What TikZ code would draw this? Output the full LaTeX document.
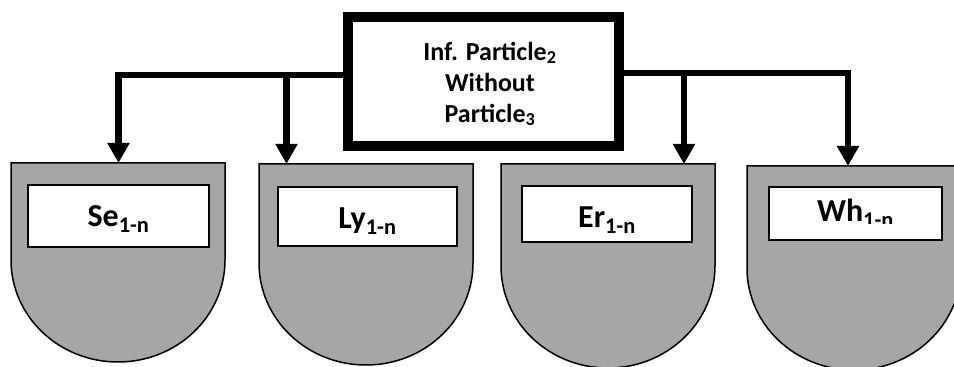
\documentclass[tikz,border=0pt]{standalone}
\usepackage{fontspec}
\setmainfont{Carlito}
\usetikzlibrary{arrows.meta}
\definecolor{slotgray}{HTML}{A6A6A6}
\tikzset{
  mainbox/.style={draw, line width=10pt, fill=white, minimum width=271pt,
    minimum height=129pt, inner sep=0pt},
  maintext/.style={font=\bfseries\fontsize{26}{31}\selectfont, align=center, inner sep=0pt},
  conn/.style={line width=6.5pt, -{Triangle[width=21pt,length=20pt]}},
  slot/.style={minimum width=214pt, inner sep=0pt, outer sep=0pt},
  dshape/.style={draw, line width=1.5pt, fill=slotgray},
  namebox/.style={draw, line width=1.1pt, fill=white, inner sep=0pt},
  namelbl/.style={font=\bfseries\fontsize{32}{38}\selectfont, anchor=base, inner sep=0pt},
}
\begin{document}
\begin{tikzpicture}[x=1pt, y=1pt]
\useasboundingbox (0,0) rectangle (954,367);
\clip (0,0) rectangle (954,367);

% outlines of the four receiving slots
\node[slot, minimum height=199pt] (se) at (118,104.5) {};
\node[slot, minimum height=201pt] (ly) at (366,102.5) {};
\node[slot, minimum height=204pt] (er) at (608,101) {};
\node[slot, minimum height=204pt] (wh) at (854,99) {};
\foreach \n in {se,ly,er,wh}
  \draw[dshape] (\n.north west) -- ([yshift=102pt]\n.south west)
    arc[start angle=180, end angle=360, x radius=107pt, y radius=102pt]
    -- (\n.north east) -- cycle;

% white name plates
\node[namebox, minimum width=181pt, minimum height=62pt] (se-box) at (118.5,151) {};
\node[namebox, minimum width=179pt, minimum height=59pt] (ly-box) at (367.5,150.5) {};
\node[namebox, minimum width=170pt, minimum height=56pt] (er-box) at (607,153) {};
\node[namebox, minimum width=173pt, minimum height=53pt] (wh-box) at (855.5,153.5) {};

\node[namelbl] (se-l) at (118.5,140) {Se\textsubscript{1-n}};
\node[namelbl] (ly-l) at (367.5,138) {Ly\textsubscript{1-n}};
\node[namelbl] (er-l) at (607,139) {Er\textsubscript{1-n}};
\begin{scope}
  \clip (740,143) rectangle (950,200);
  \node[namelbl] (wh-l) at (855.5,145) {Wh\textsubscript{1-n}};
\end{scope}

% central box and its connectors
\node[mainbox] (main) at (483.5,285.5) {};
\coordinate (lj) at ([yshift=6.5pt]main.west);
\coordinate (rj) at ([yshift=8.5pt]main.east);
\coordinate (se-in) at ([xshift=0.5pt]se.north);
\coordinate (ly-in) at ([xshift=-79.5pt]ly.north);
\coordinate (er-in) at ([xshift=76pt]er.north);
\coordinate (wh-in) at ([xshift=-6pt]wh.north);

\draw[conn] (lj) -| (se-in);
\draw[conn] (lj -| ly-in) -- (ly-in);
\draw[conn] (rj) -| (wh-in);
\draw[conn] (rj -| er-in) -- (er-in);

\node[mainbox] at (main) {};
\node[maintext] (main-t) at (490,283) {Inf. Particle\textsubscript{2}\\Without\\Particle\textsubscript{3}};
\end{tikzpicture}
\end{document}
